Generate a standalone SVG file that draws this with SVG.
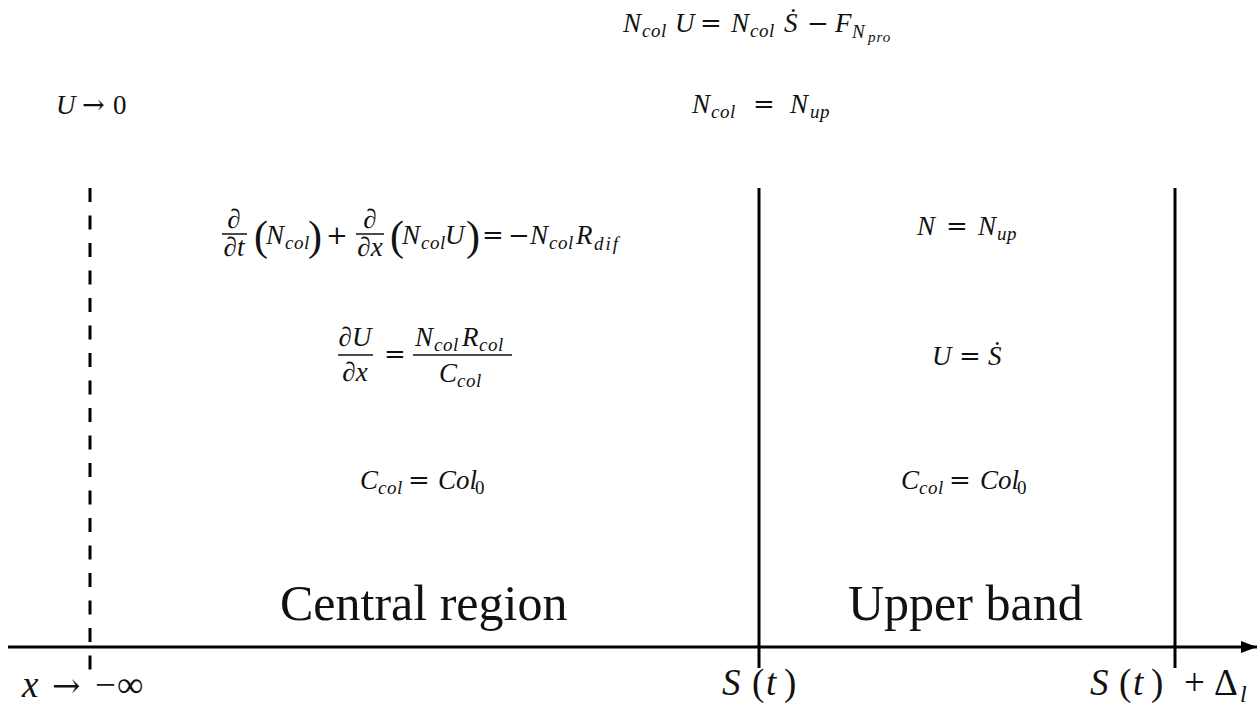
<svg xmlns="http://www.w3.org/2000/svg" width="1260" height="707" viewBox="0 0 1260 707">
<style>
.m{font-family:"Liberation Serif","DejaVu Serif",serif;font-size:27px;fill:#111}
.i{font-style:italic}
.s{font-size:19px;font-style:italic;letter-spacing:0.5px}
.ss{font-size:15px;font-style:italic;letter-spacing:1px}
.o{font-family:"DejaVu Serif",serif;font-size:26px}
.ar{font-family:"DejaVu Serif",serif;font-size:27px}
.p{font-size:42px}
.b{font-family:"Liberation Serif","DejaVu Serif",serif;font-size:37px;fill:#111}
.big{font-family:"Liberation Serif","DejaVu Serif",serif;font-size:50px;fill:#111}
.ln{stroke:#000;stroke-width:3;fill:none}
.fr{stroke:#111;stroke-width:1.5}
</style>
<defs>
<marker id="ah" markerWidth="18" markerHeight="14" refX="16" refY="7" orient="auto" markerUnits="userSpaceOnUse">
<path d="M0,1 L16,7 L0,13 Z" fill="#000"/>
</marker>
</defs>
<rect width="1260" height="707" fill="#fff"/>
<g id="connectors">
<line class="ln" x1="8" y1="647" x2="1257" y2="647" marker-end="url(#ah)"/>
<line class="ln" x1="90" y1="188" x2="90" y2="670" stroke-dasharray="14 13.5"/>
<line class="ln" x1="759" y1="188" x2="759" y2="668"/>
<line class="ln" x1="1175" y1="188" x2="1175" y2="668"/>
</g>
<g id="eq-top">
<text class="m"><tspan class="i" x="623" y="32">N</tspan><tspan class="s" x="642" y="37">col</tspan><tspan class="i" x="675" y="32">U</tspan><tspan class="o" x="700" y="32">=</tspan><tspan class="i" x="731" y="32">N</tspan><tspan class="s" x="750" y="37">col</tspan><tspan class="i" x="784" y="32">Ṡ</tspan><tspan class="o" x="807" y="32">−</tspan><tspan class="i" x="835" y="32">F</tspan><tspan class="s" x="852" y="38">N</tspan><tspan class="ss" x="868" y="42">pro</tspan></text>
</g>
<g id="eq-u0">
<text class="m"><tspan class="i" x="56" y="114">U</tspan><tspan class="ar" x="82" y="114">→</tspan><tspan x="113" y="114">0</tspan></text>
</g>
<g id="eq-ncol">
<text class="m"><tspan class="i" x="692" y="113">N</tspan><tspan class="s" x="711" y="118">col</tspan><tspan class="o" x="753" y="113">=</tspan><tspan class="i" x="790" y="113">N</tspan><tspan class="s" x="810" y="118">up</tspan></text>
</g>
<g id="eq-conservation">
<text class="m" x="234" y="228" text-anchor="middle">∂</text>
<line class="fr" x1="222" y1="234" x2="247" y2="234"/>
<text class="m" x="234" y="256" text-anchor="middle">∂<tspan class="i">t</tspan></text>
<text class="m"><tspan class="p" x="254" y="250">(</tspan><tspan class="i" x="266" y="244">N</tspan><tspan class="s" x="285" y="249">col</tspan><tspan class="p" x="308" y="250">)</tspan><tspan class="o" x="326" y="244">+</tspan></text>
<text class="m" x="370" y="228" text-anchor="middle">∂</text>
<line class="fr" x1="356" y1="234" x2="384" y2="234"/>
<text class="m" x="370" y="256" text-anchor="middle">∂<tspan class="i">x</tspan></text>
<text class="m"><tspan class="p" x="390" y="250">(</tspan><tspan class="i" x="402" y="244">N</tspan><tspan class="s" x="421" y="249">col</tspan><tspan class="i" x="445" y="244">U</tspan><tspan class="p" x="466" y="250">)</tspan><tspan class="o" x="482" y="244">=</tspan><tspan class="o" x="508" y="244">−</tspan><tspan class="i" x="530" y="244">N</tspan><tspan class="s" x="549" y="249">col</tspan><tspan class="i" x="576" y="244">R</tspan><tspan class="s" x="594" y="250" style="letter-spacing:2px">dif</tspan></text>
</g>
<g id="eq-velocity">
<text class="m" x="355" y="346" text-anchor="middle">∂<tspan class="i">U</tspan></text>
<line class="fr" x1="338" y1="355" x2="373" y2="355"/>
<text class="m" x="355" y="381" text-anchor="middle">∂<tspan class="i">x</tspan></text>
<text class="m"><tspan class="o" x="384" y="363">=</tspan></text>
<text class="m"><tspan class="i" x="415" y="346">N</tspan><tspan class="s" x="434" y="351">col</tspan><tspan class="i" x="462" y="346">R</tspan><tspan class="s" x="479" y="351">col</tspan></text>
<line class="fr" x1="413" y1="355" x2="512" y2="355"/>
<text class="m"><tspan class="i" x="439" y="382">C</tspan><tspan class="s" x="457" y="387">col</tspan></text>
</g>
<g id="eq-ccol-left">
<text class="m"><tspan class="i" x="360" y="489">C</tspan><tspan class="s" x="378" y="494">col</tspan><tspan class="o" x="408" y="489">=</tspan><tspan class="i" x="438" y="489">Col</tspan><tspan x="475" y="494" style="font-size:19px">0</tspan></text>
</g>
<g id="eq-n-up">
<text class="m"><tspan class="i" x="917" y="235">N</tspan><tspan class="o" x="946" y="235">=</tspan><tspan class="i" x="978" y="235">N</tspan><tspan class="s" x="997" y="240">up</tspan></text>
</g>
<g id="eq-u-sdot">
<text class="m"><tspan class="i" x="932" y="365">U</tspan><tspan class="o" x="959" y="365">=</tspan><tspan class="i" x="988" y="365">Ṡ</tspan></text>
</g>
<g id="eq-ccol-right">
<text class="m"><tspan class="i" x="901" y="489">C</tspan><tspan class="s" x="919" y="494">col</tspan><tspan class="o" x="949" y="489">=</tspan><tspan class="i" x="980" y="489">Col</tspan><tspan x="1017" y="494" style="font-size:19px">0</tspan></text>
</g>
<g id="label-central">
<text class="big" x="280" y="620">Central region</text>
</g>
<g id="label-upper">
<text class="big" x="848" y="620">Upper band</text>
</g>
<g id="label-minf">
<text class="b"><tspan class="i" x="22" y="697">x</tspan><tspan class="ar" x="52" y="697" style="font-size:34px">→</tspan><tspan x="95" y="697">−</tspan><tspan x="117" y="697">∞</tspan></text>
</g>
<g id="label-st">
<text class="b"><tspan class="i" x="722" y="695">S</tspan><tspan x="752" y="695">(</tspan><tspan class="i" x="766" y="695">t</tspan><tspan x="784" y="695">)</tspan></text>
</g>
<g id="label-std">
<text class="b"><tspan class="i" x="1090" y="695">S</tspan><tspan x="1119" y="695">(</tspan><tspan class="i" x="1133" y="695">t</tspan><tspan x="1151" y="695">)</tspan><tspan x="1184" y="695">+</tspan><tspan x="1214" y="695">Δ</tspan><tspan class="s" x="1240" y="702" style="font-size:24px">l</tspan></text>
</g>
</svg>
